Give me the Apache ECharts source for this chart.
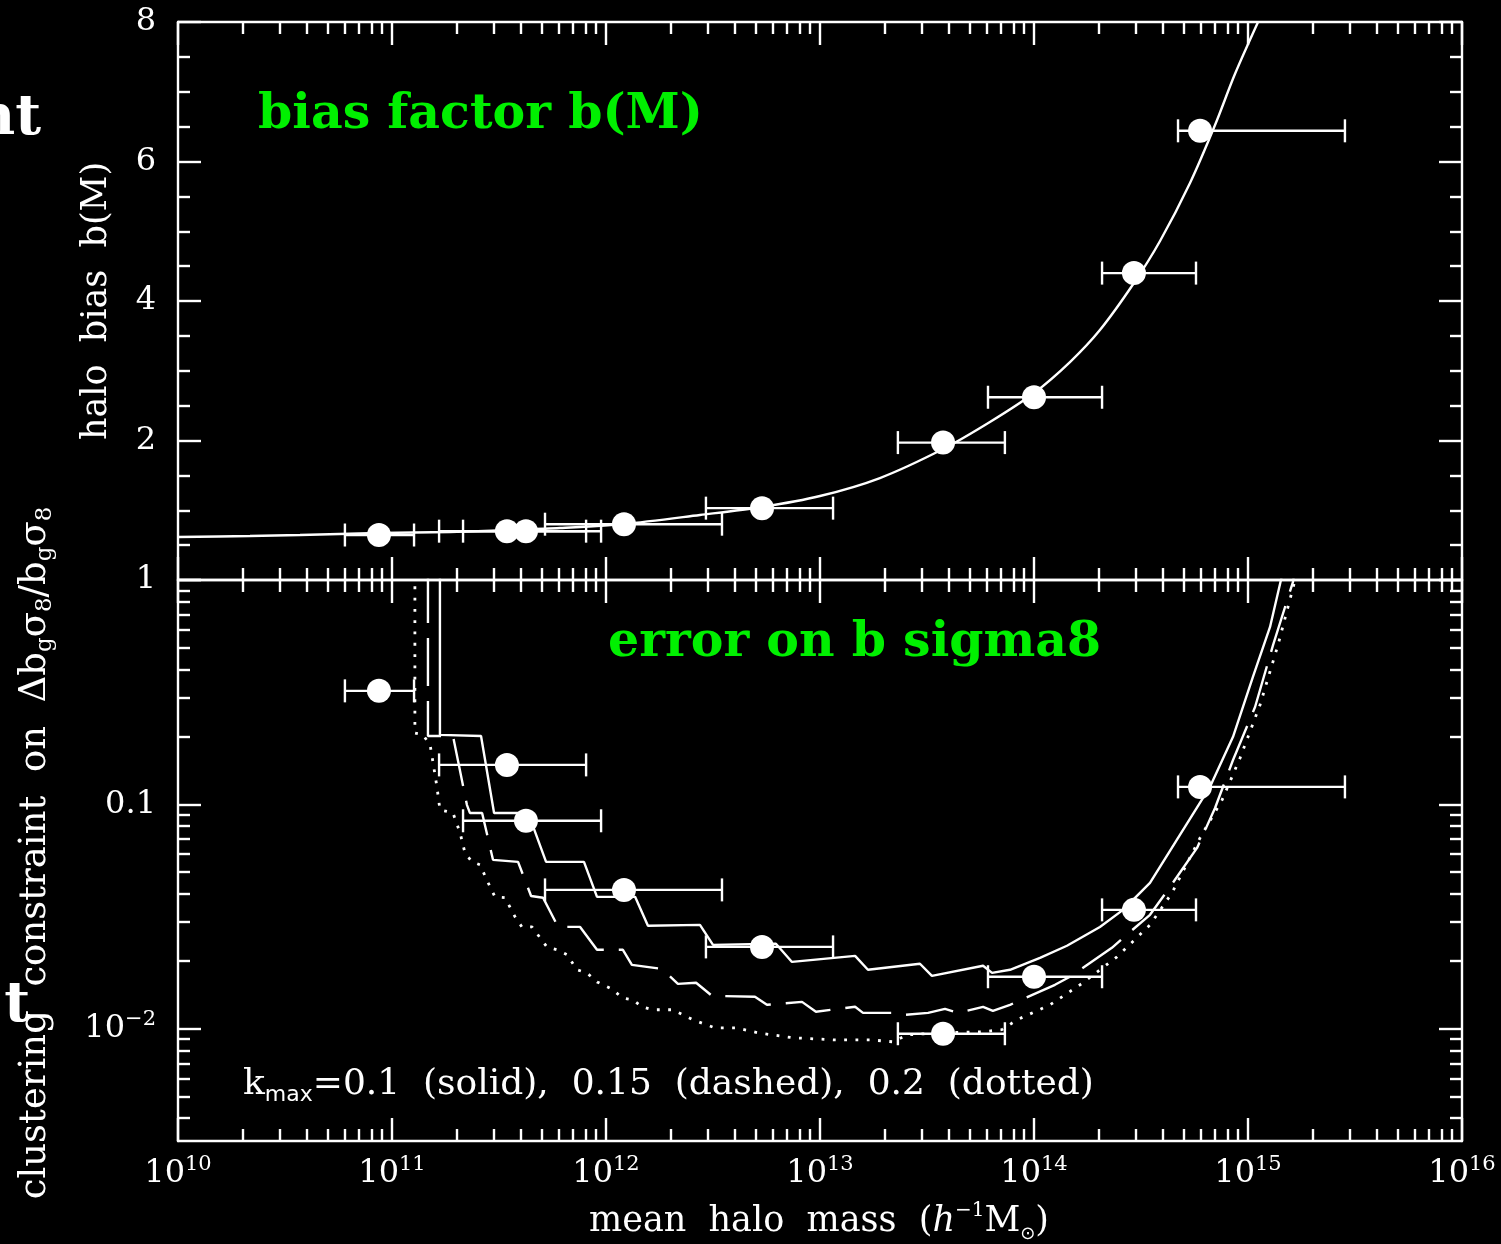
<!DOCTYPE html>
<html>
<head>
<meta charset="utf-8">
<script src="https://cdn.jsdelivr.net/npm/echarts@6/dist/echarts.min.js"></script>
<style>
  html, body { margin: 0; padding: 0; background: #000; }
  #chart { width: 1501px; height: 1244px; }
</style>
</head>
<body>
<div id="chart"></div>
<script>
// ---- Mass bins (log10 of mean halo mass, h^-1 Msun) and their bin edges ----
const binLogMass     = [10.939, 11.537, 11.626, 12.084, 12.729, 13.575, 14.000, 14.467, 14.776];
const binLogMassLow  = [10.780, 11.220, 11.332, 11.715, 12.467, 13.364, 13.785, 14.318, 14.673];
const binLogMassHigh = [11.103, 11.907, 11.977, 12.542, 13.061, 13.864, 14.318, 14.757, 15.453];

// Measured halo bias in each bin
const binBias = [0.645, 0.70, 0.70, 0.80, 1.03, 1.97, 2.62, 4.40, 6.44];
// log10 of the clustering constraint on b_g sigma_8 in each bin
const binLogError = [-0.494, -0.824, -1.073, -1.381, -1.635, -2.022, -1.768, -1.470, -0.922];

// ---- Theoretical bias b(M) ----
const biasCurveLogMass = [10.000, 10.336, 10.570, 10.939, 11.271, 11.537, 11.785, 12.084, 12.439, 12.729,
  13.000, 13.280, 13.575, 13.794, 14.000, 14.168, 14.308, 14.467, 14.589, 14.729, 14.846, 14.939, 15.047];
const biasCurveValue = [0.616, 0.631, 0.645, 0.674, 0.688, 0.717, 0.746, 0.803, 0.932, 1.047,
  1.204, 1.462, 1.878, 2.265, 2.681, 3.125, 3.584, 4.258, 4.860, 5.692, 6.523, 7.254, 8.000];

// ---- Forecast constraints: k_max = 0.1 (solid) ----
const solidLogMass = [11.224, 11.224, 11.416, 11.477, 11.636, 11.720, 11.897, 11.958, 12.136, 12.196,
  12.439, 12.500, 12.794, 12.869, 13.164, 13.224, 13.467, 13.523, 13.762, 13.804, 13.888, 14.028,
  14.154, 14.308, 14.416, 14.542, 14.682, 14.822, 14.930, 15.023, 15.103, 15.154, 15.159];
const solidLogError = [0.022, -0.690, -0.695, -1.038, -1.038, -1.256, -1.256, -1.412, -1.412, -1.541,
  -1.537, -1.626, -1.621, -1.702, -1.675, -1.737, -1.710, -1.764, -1.719, -1.751, -1.737, -1.684,
  -1.630, -1.546, -1.470, -1.350, -1.136, -0.922, -0.699, -0.432, -0.209, 0.000, 0.022];

// ---- k_max = 0.15 (dashed) ----
const dashedLogMass = [11.168, 11.168, 11.285, 11.350, 11.364, 11.421, 11.472, 11.589, 11.650, 11.706,
  11.776, 11.879, 11.958, 12.079, 12.121, 12.262, 12.336, 12.421, 12.495, 12.696, 12.752, 12.916,
  12.981, 13.164, 13.201, 13.341, 13.397, 13.505, 13.584, 13.645, 13.762, 13.808, 13.888, 14.098,
  14.168, 14.364, 14.416, 14.542, 14.626, 14.762, 14.846, 14.930, 15.033, 15.117, 15.210, 15.215];
const dashedLogError = [0.022, -0.695, -0.695, -1.002, -1.038, -1.038, -1.247, -1.256, -1.408, -1.416,
  -1.546, -1.546, -1.648, -1.648, -1.715, -1.733, -1.800, -1.795, -1.853, -1.857, -1.893, -1.880,
  -1.924, -1.902, -1.929, -1.929, -1.938, -1.929, -1.911, -1.929, -1.902, -1.920, -1.893, -1.804,
  -1.768, -1.639, -1.595, -1.492, -1.381, -1.194, -1.016, -0.802, -0.566, -0.290, -0.009, 0.022];

// ---- k_max = 0.2 (dotted) ----
const dottedLogMass = [11.107, 11.107, 11.145, 11.178, 11.192, 11.210, 11.224, 11.285, 11.318, 11.341,
  11.374, 11.411, 11.458, 11.481, 11.528, 11.575, 11.607, 11.654, 11.724, 11.771, 11.818, 11.864,
  11.911, 11.958, 12.033, 12.075, 12.126, 12.168, 12.215, 12.313, 12.407, 12.509, 12.612, 12.710,
  12.874, 13.061, 13.234, 13.341, 13.407, 13.561, 13.762, 13.850, 13.921, 14.075, 14.229, 14.388,
  14.542, 14.645, 14.776, 14.879, 14.963, 15.056, 15.140, 15.220, 15.224];
const dottedLogError = [0.022, -0.682, -0.690, -0.735, -0.815, -0.922, -1.024, -1.038, -1.127, -1.216,
  -1.256, -1.269, -1.367, -1.412, -1.416, -1.501, -1.546, -1.546, -1.635, -1.648, -1.670, -1.737,
  -1.751, -1.791, -1.826, -1.862, -1.871, -1.902, -1.915, -1.915, -1.960, -1.996, -1.996, -2.018,
  -2.040, -2.049, -2.049, -2.058, -2.027, -2.018, -2.013, -2.004, -1.960, -1.893, -1.795, -1.679,
  -1.537, -1.394, -1.149, -0.980, -0.793, -0.557, -0.290, 0.000, 0.022];

// ---- Axis tick positions (decades and 2..9 subdivisions) ----
const massDecades = [10, 11, 12, 13, 14, 15, 16];
const errorDecades = [0, -1, -2];

const zip = (xs, ys) => xs.map((x, i) => [x, ys[i]]);
const minorMassTicks = [];
massDecades.slice(0, -1).forEach(d => { for (let k = 2; k <= 9; k++) minorMassTicks.push(d + Math.log10(k)); });
const minorErrorTicks = [];
[-3, -2, -1].forEach(d => { for (let k = 2; k <= 9; k++) { const v = d + Math.log10(k); if (v >= -2.5) minorErrorTicks.push(v); } });

const WHITE = '#ffffff';
const SERIF = '"DejaVu Serif", serif';
const TICK_MAJOR = 23, TICK_MINOR = 12;
const LW = 2.4;

const supRich = {
  b: { fontFamily: SERIF, fontSize: 32, color: WHITE, lineHeight: 40 },
  s: { fontFamily: SERIF, fontSize: 21, color: WHITE, lineHeight: 21, verticalAlign: 'top' }
};

function massAxis(gridIndex, position, major, labels) {
  return {
    type: 'value', gridIndex, position, min: 10, max: 16, interval: 1,
    axisLine: { show: major, onZero: false, lineStyle: { color: WHITE, width: LW } },
    axisTick: major
      ? { show: true, inside: true, length: TICK_MAJOR, lineStyle: { color: WHITE, width: LW } }
      : { show: true, inside: true, length: TICK_MINOR, customValues: minorMassTicks, lineStyle: { color: WHITE, width: LW } },
    axisLabel: labels
      ? { show: true, margin: 13, formatter: v => '{b|10}{s|' + v + '}', rich: supRich }
      : { show: false },
    splitLine: { show: false }
  };
}

function errorAxis(position, major, labels) {
  return {
    type: 'value', gridIndex: 1, position, min: -2.5, max: 0,
    axisLine: { show: major, onZero: false, lineStyle: { color: WHITE, width: LW } },
    axisTick: { show: true, inside: true, length: major ? TICK_MAJOR : TICK_MINOR,
      customValues: major ? errorDecades : minorErrorTicks, lineStyle: { color: WHITE, width: LW } },
    axisLabel: labels
      ? { show: true, margin: 22, customValues: errorDecades,
          formatter: v => v === 0 ? '{b|1}' : (v === -1 ? '{b|0.1}' : '{b|10}{s|\u2212' + (-v) + '}'),
          rich: supRich }
      : { show: false },
    splitLine: { show: false }
  };
}

function biasAxis(position, labels) {
  return {
    type: 'value', gridIndex: 0, position, min: 0, max: 8, interval: 2,
    axisLine: { show: true, onZero: false, lineStyle: { color: WHITE, width: LW } },
    axisTick: { show: true, inside: true, length: TICK_MAJOR, lineStyle: { color: WHITE, width: LW } },
    minorTick: { show: true, splitNumber: 4, length: TICK_MINOR, lineStyle: { color: WHITE, width: LW } },
    axisLabel: labels
      ? { show: true, margin: 22, color: WHITE, fontFamily: SERIF, fontSize: 32,
          formatter: v => v === 0 ? '' : String(v) }
      : { show: false },
    splitLine: { show: false }
  };
}

function errorBars(params, api) {
  const y = api.value(1);
  const a = api.coord([api.value(2), y]);
  const b = api.coord([api.value(3), y]);
  const h = 11.5;
  const style = { stroke: WHITE, lineWidth: LW };
  return {
    type: 'group',
    children: [
      { type: 'line', shape: { x1: a[0], y1: a[1], x2: b[0], y2: b[1] }, style },
      { type: 'line', shape: { x1: a[0], y1: a[1] - h, x2: a[0], y2: a[1] + h }, style },
      { type: 'line', shape: { x1: b[0], y1: b[1] - h, x2: b[0], y2: b[1] + h }, style }
    ]
  };
}

const lineSeries = (xs, ys, type, width) => ({
  type: 'line', xAxisIndex: 4, yAxisIndex: 2, data: zip(xs, ys), symbol: 'none',
  lineStyle: { color: WHITE, width: width, type: type, cap: 'butt', opacity: 1 }, z: 3, silent: true
});

const dotStyle = { color: WHITE, opacity: 1, borderWidth: 0 };

const chart = echarts.init(document.getElementById('chart'), null, { renderer: 'canvas' });
chart.setOption({
  backgroundColor: '#000000',
  animation: false,
  grid: [
    { left: 178, top: 22, width: 1284, height: 558, containLabel: false, outerBoundsMode: 'none' },
    { left: 178, top: 580, width: 1284, height: 561, containLabel: false, outerBoundsMode: 'none' }
  ],
  xAxis: [
    massAxis(0, 'bottom', true, false),
    massAxis(0, 'bottom', false, false),
    massAxis(0, 'top', true, false),
    massAxis(0, 'top', false, false),
    massAxis(1, 'bottom', true, true),
    massAxis(1, 'bottom', false, false),
    massAxis(1, 'top', true, false),
    massAxis(1, 'top', false, false)
  ],
  yAxis: [
    biasAxis('left', true),
    biasAxis('right', false),
    errorAxis('left', true, true),
    errorAxis('left', false, false),
    errorAxis('right', true, false),
    errorAxis('right', false, false)
  ],
  series: [
    {
      type: 'line', xAxisIndex: 0, yAxisIndex: 0, data: zip(biasCurveLogMass, biasCurveValue),
      symbol: 'none', smooth: 0.3, lineStyle: { color: WHITE, width: LW }, z: 3, silent: true
    },
    {
      type: 'custom', xAxisIndex: 0, yAxisIndex: 0, renderItem: errorBars, z: 4, silent: true,
      encode: { x: 0, y: 1 },
      data: binLogMass.map((m, i) => [m, binBias[i], binLogMassLow[i], binLogMassHigh[i]])
    },
    {
      type: 'scatter', xAxisIndex: 0, yAxisIndex: 0, data: zip(binLogMass, binBias),
      symbol: 'circle', symbolSize: 24, itemStyle: dotStyle, z: 5, silent: true
    },
    lineSeries(solidLogMass, solidLogError, 'solid', LW),
    lineSeries(dashedLogMass, dashedLogError, [48, 15], LW),
    lineSeries(dottedLogMass, dottedLogError, [2.8, 8.5], 2.8),
    {
      type: 'custom', xAxisIndex: 4, yAxisIndex: 2, renderItem: errorBars, z: 4, silent: true,
      encode: { x: 0, y: 1 },
      data: binLogMass.map((m, i) => [m, binLogError[i], binLogMassLow[i], binLogMassHigh[i]])
    },
    {
      type: 'scatter', xAxisIndex: 4, yAxisIndex: 2, data: zip(binLogMass, binLogError),
      symbol: 'circle', symbolSize: 24, itemStyle: dotStyle, z: 5, silent: true
    }
  ],
  graphic: [
    // panel captions
    { type: 'text', x: 258, y: 115, silent: true,
      style: { text: 'bias factor b(M)', fill: '#00f000', font: 'bold 49px ' + SERIF, textVerticalAlign: 'middle' } },
    { type: 'text', x: 608, y: 643, silent: true,
      style: { text: 'error on b sigma8', fill: '#00f000', font: 'bold 49px ' + SERIF, textVerticalAlign: 'middle' } },
    // k_max note
    { type: 'text', x: 243, y: 1085, silent: true,
      style: {
        text: '{r|k}{sub|max}{r|=0.1  (solid),  0.15  (dashed),  0.2  (dotted)}',
        fill: WHITE, textVerticalAlign: 'middle',
        rich: {
          r: { fontFamily: SERIF, fontSize: 36, fill: WHITE, lineHeight: 42 },
          sub: { fontFamily: '"DejaVu Sans", sans-serif', fontSize: 22, fill: WHITE, lineHeight: 22, verticalAlign: 'bottom' }
        }
      } },
    // x-axis title
    { type: 'text', x: 819, y: 1222, silent: true,
      style: {
        text: '{r|mean  halo  mass  (}{i|h}{sup|\u22121}{r|M}{sub|\u2299}{r|)}',
        fill: WHITE, textAlign: 'center', textVerticalAlign: 'middle',
        rich: {
          r: { fontFamily: SERIF, fontSize: 35, fill: WHITE, lineHeight: 42 },
          i: { fontFamily: SERIF, fontSize: 35, fontStyle: 'italic', fill: WHITE, lineHeight: 42 },
          sup: { fontFamily: SERIF, fontSize: 20, fill: WHITE, lineHeight: 20, verticalAlign: 'top' },
          sub: { fontFamily: '"DejaVu Sans", sans-serif', fontSize: 18, fill: WHITE, lineHeight: 18, verticalAlign: 'bottom' }
        }
      } },
    // y-axis titles
    { type: 'text', x: 97, y: 301, rotation: Math.PI / 2, silent: true,
      style: { text: 'halo  bias  b(M)', fill: WHITE, font: '35px ' + SERIF, textAlign: 'center', textVerticalAlign: 'middle' } },
    { type: 'text', x: 35, y: 853, rotation: Math.PI / 2, silent: true,
      style: {
        text: '{r|clustering  constraint  on  \u0394b}{sub|g}{r|\u03c3}{sub|8}{r|/b}{sub|g}{r|\u03c3}{sub|8}',
        fill: WHITE, textAlign: 'center', textVerticalAlign: 'middle',
        rich: {
          r: { fontFamily: SERIF, fontSize: 37, fill: WHITE, lineHeight: 44 },
          sub: { fontFamily: SERIF, fontSize: 23, fill: WHITE, lineHeight: 22, verticalAlign: 'bottom' }
        }
      } },
    // fragments of neighbouring slide text at the left edge
    { type: 'text', x: 41, y: 119, silent: true,
      style: { text: 'nt', fill: WHITE, font: 'bold 56px ' + SERIF, textAlign: 'right', textVerticalAlign: 'middle' } },
    { type: 'text', x: 30, y: 1006, silent: true,
      style: { text: 't', fill: WHITE, font: 'bold 56px ' + SERIF, textAlign: 'right', textVerticalAlign: 'middle' } }
  ]
});
</script>
</body>
</html>
